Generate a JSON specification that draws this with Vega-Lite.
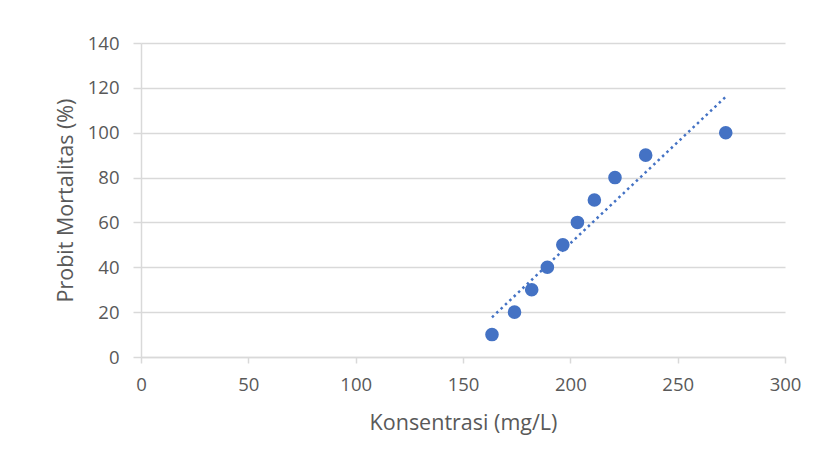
{
  "$schema": "https://vega.github.io/schema/vega-lite/v6.json",
  "autosize": "none",
  "width": 644,
  "height": 314,
  "padding": {"left": 141, "top": 43, "right": 34, "bottom": 111},
  "background": "white",
  "config": {
    "view": {"stroke": null},
    "font": "Open Sans",
    "axis": {
      "labelFont": "Open Sans",
      "titleFont": "Open Sans",
      "labelColor": "#595959",
      "titleColor": "#595959",
      "labelFontSize": 18.5,
      "titleFontSize": 21.5,
      "titleFontWeight": "normal",
      "domainColor": "#d9d9d9",
      "tickColor": "#d9d9d9",
      "gridColor": "#d9d9d9",
      "domainWidth": 1.5,
      "tickWidth": 1.5,
      "gridWidth": 1.5
    }
  },
  "data": {
    "values": [
      {"Konsentrasi": 163.5, "Mortalitas": 10},
      {"Konsentrasi": 174, "Mortalitas": 20},
      {"Konsentrasi": 182, "Mortalitas": 30},
      {"Konsentrasi": 189.3, "Mortalitas": 40},
      {"Konsentrasi": 196.5, "Mortalitas": 50},
      {"Konsentrasi": 203.3, "Mortalitas": 60},
      {"Konsentrasi": 211.2, "Mortalitas": 70},
      {"Konsentrasi": 220.8, "Mortalitas": 80},
      {"Konsentrasi": 235.1, "Mortalitas": 90},
      {"Konsentrasi": 272.4, "Mortalitas": 100}
    ]
  },
  "encoding": {
    "x": {
      "field": "Konsentrasi",
      "type": "quantitative",
      "scale": {"domain": [0, 300], "nice": false, "zero": true},
      "axis": {
        "title": "Konsentrasi (mg/L)",
        "values": [0, 50, 100, 150, 200, 250, 300],
        "grid": false,
        "tickSize": 6,
        "labelPadding": 12,
        "titlePadding": 19,
        "labelFlush": false
      }
    },
    "y": {
      "field": "Mortalitas",
      "type": "quantitative",
      "scale": {"domain": [0, 140], "nice": false},
      "axis": {
        "title": "Probit Mortalitas (%)",
        "values": [0, 20, 40, 60, 80, 100, 120, 140],
        "grid": true,
        "tickSize": 8,
        "labelPadding": 14,
        "titlePadding": 10
      }
    }
  },
  "layer": [
    {
      "transform": [{"regression": "Mortalitas", "on": "Konsentrasi"}],
      "mark": {"type": "line", "color": "#4472C4", "strokeWidth": 2.5, "strokeDash": [2.5, 3.5], "strokeCap": "butt"}
    },
    {
      "mark": {"type": "circle", "color": "#4472C4", "size": 185, "opacity": 1}
    }
  ]
}
